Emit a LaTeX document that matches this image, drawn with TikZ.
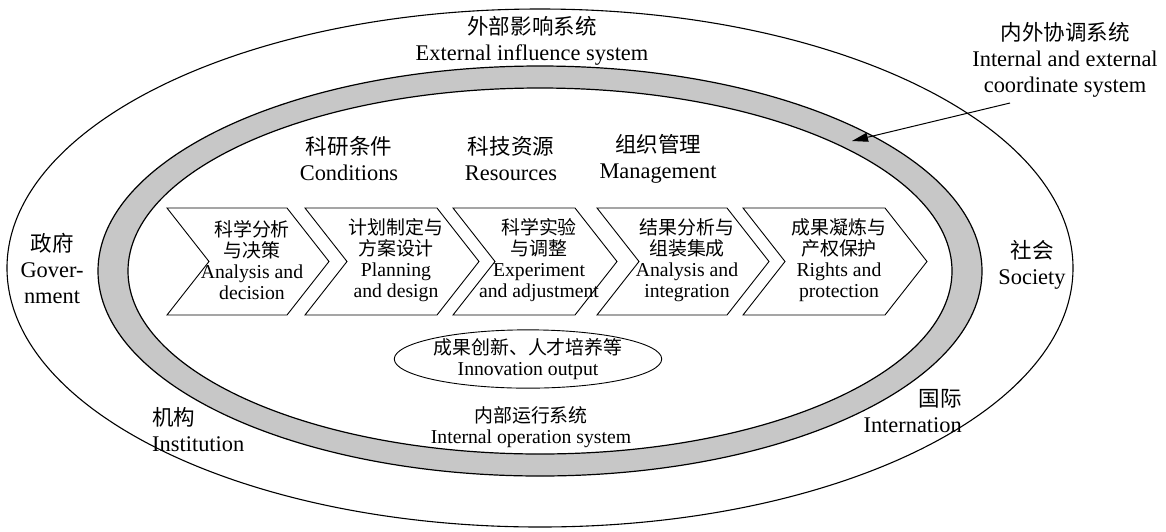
\documentclass[tikz,border=0pt]{standalone}
\usepackage{fontspec}
\setmainfont{Liberation Serif}
\newfontfamily\cjk[Scale=0.96]{Noto Sans CJK SC}
\newcommand{\zh}[1]{{\cjk #1}}
\usetikzlibrary{arrows.meta,shapes.geometric}

\begin{document}
\begin{tikzpicture}[x=1pt,y=-1pt,
  syslabel/.style={align=center, inner sep=0pt, font=\fontsize{22.4}{26}\selectfont},
  steptext/.style={align=center, inner sep=0pt, font=\fontsize{19.7}{21}\selectfont},
  chevron/.style={draw=black, line width=0.9pt, line join=miter},
  ringfill/.style={fill=black!22},
  ringline/.style={draw=black, line width=1.2pt},
  outerline/.style={draw=black, line width=1.1pt},
  pointer/.style={-{Triangle[length=16pt,width=9pt]}, line width=1pt}
]
\useasboundingbox (0,0) rectangle (1166,531);

% external system boundary
\draw[outerline] (540,268) ellipse [x radius=533, y radius=259];

% coordination ring
\path[ringfill, even odd rule]
  (540,271) ellipse [x radius=442, y radius=205]
  (540,271) ellipse [x radius=412, y radius=183];
\draw[ringline] (540,271) ellipse [x radius=442, y radius=205];
\draw[ringline] (540,271) ellipse [x radius=412, y radius=183];

% process chevrons
\foreach \xl/\xr/\nm/\txt in {
  167/287/s1/{\zh{科学分析}\\\zh{与决策}\\Analysis and\\decision},
  305/437/s2/{\zh{计划制定与}\\\zh{方案设计}\\Planning\\and design},
  453/575/s3/{\zh{科学实验}\\\zh{与调整}\\Experiment\\and adjustment},
  597/727/s4/{\zh{结果分析与}\\\zh{组装集成}\\Analysis and\\integration},
  743/885/s5/{\zh{成果凝炼与}\\\zh{产权保护}\\Rights and\\protection}} {
  \draw[chevron] (\xl,208) -- (\xr,208) -- (\xr+42,261.5) -- (\xr,315)
    -- (\xl,315) -- (\xl+42,261.5) -- cycle;
  \node[steptext] (\nm) at ({(\xl+\xr)/2+25},260) {\txt};
}

% labels
\node[syslabel] (ext) at (532,41) {\zh{外部影响系统}\\External influence system};
\node[syslabel] (coord) at (1065,60) {\zh{内外协调系统}\\Internal and external\\coordinate system};
\node[syslabel] (cond) at (349,159) {\zh{科研条件}\\Conditions};
\node[syslabel] (res) at (511,159) {\zh{科技资源}\\Resources};
\node[syslabel] (mgmt) at (658,159) {\zh{组织管理}\\Management};
\node[syslabel] (gov) at (52,268) {\zh{政府}\\Gover-\\nment};
\node[syslabel] (soc) at (1032,265) {\zh{社会}\\Society};
\node[syslabel, align=left, anchor=west] (inst) at (152,430) {\zh{机构}\\Institution};
\node[syslabel, align=right, anchor=east] (intl) at (962,411) {\zh{国际}\\Internation};
\node[steptext] (internal) at (531,427) {\zh{内部运行系统}\\Internal operation system};

% output ellipse
\node[draw, ellipse, line width=0.9pt, minimum width=254pt, minimum height=52pt,
      inner sep=0pt, steptext] (innov) at (528,359) {\zh{成果创新、人才培养等}\\Innovation output};

% pointer to the ring
\coordinate (arrowstart) at (1010,103);
\coordinate (arrowtip) at (852,141);
\draw[pointer] (arrowstart) -- (arrowtip);
\end{tikzpicture}
\end{document}
